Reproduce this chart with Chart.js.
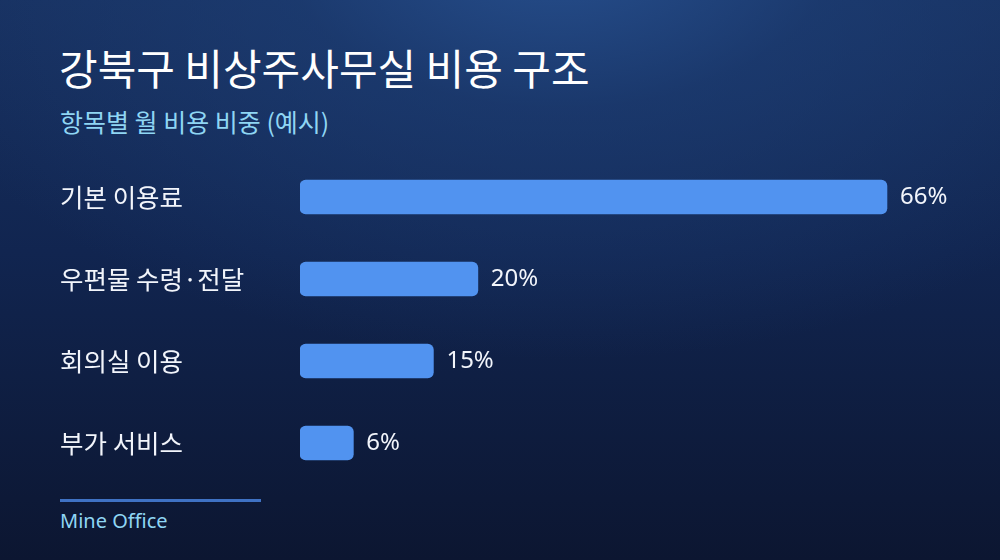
<!DOCTYPE html>
<html><head><meta charset="utf-8">
<script src="https://cdn.jsdelivr.net/npm/chart.js@4"></script>
<style>
html,body{margin:0;padding:0;}
body{width:1000px;height:560px;overflow:hidden;position:relative;
 font-family:"Noto Sans CJK KR","Noto Sans",sans-serif;
 background:radial-gradient(ellipse 700px 420px at 560px -60px, #27508f 0%, rgba(30,64,120,0.6) 40%, rgba(16,32,70,0) 100%),
 linear-gradient(180deg,#17305f 0%,#112550 45%,#0c1631 100%);}
#title{position:absolute;left:59px;top:36px;font-size:42px;font-weight:400;color:#ffffff;white-space:nowrap;}
#sub{position:absolute;left:60px;top:103px;font-size:25px;color:#8fd6f4;white-space:nowrap;}
#line{position:absolute;left:60px;top:499px;width:201px;height:3px;background:#3f72c4;}
#foot{position:absolute;left:60px;top:507px;font-size:20px;color:#8fd6f4;font-family:"Noto Sans","Open Sans",sans-serif;}
canvas{position:absolute;left:0;top:0;}
</style></head>
<body>
<div id="title">강북구 비상주사무실 비용 구조</div>
<div id="sub">항목별 월 비용 비중 (예시)</div>
<div id="line"></div>
<div id="foot">Mine Office</div>
<div style="position:absolute;left:0;top:0;width:1000px;height:560px;"><canvas id="c"></canvas></div>
<script>
const categories = ["기본 이용료", "우편물 수령·전달", "회의실 이용", "부가 서비스"];
const shares = [66, 20, 15, 6];

const valueLabels = {
  id: 'valueLabels',
  afterDatasetsDraw(chart) {
    const ctx = chart.ctx;
    const meta = chart.getDatasetMeta(0);
    ctx.save();
    ctx.font = '24px "Noto Sans", "Noto Sans CJK KR", sans-serif';
    ctx.fillStyle = '#f2f5fb';
    ctx.textAlign = 'left';
    ctx.textBaseline = 'middle';
    meta.data.forEach((bar, i) => {
      ctx.fillText(shares[i] + '%', bar.x + 13, bar.y);
    });
    ctx.restore();
  }
};

new Chart(document.getElementById('c'), {
  type: 'bar',
  data: {
    labels: categories,
    datasets: [{
      data: shares,
      backgroundColor: '#5193f0',
      borderRadius: 6,
      borderSkipped: false,
      barThickness: 34
    }]
  },
  options: {
    indexAxis: 'y',
    responsive: true,
    maintainAspectRatio: false,
    animation: false,
    layout: { padding: { left: 60, right: 33, top: 156, bottom: 76 } },
    plugins: { legend: { display: false }, tooltip: { enabled: false } },
    scales: {
      x: { display: false, min: 0, max: 75 },
      y: {
        grid: { display: false },
        border: { display: false },
        afterFit(scale) { scale.width = 240; },
        ticks: {
          crossAlign: 'far',
          color: '#f2f5fb',
          padding: 0,
          font: { size: 25.5, family: '"Noto Sans CJK KR", "Noto Sans", sans-serif' }
        }
      }
    }
  },
  plugins: [valueLabels]
});
</script>
</body></html>
